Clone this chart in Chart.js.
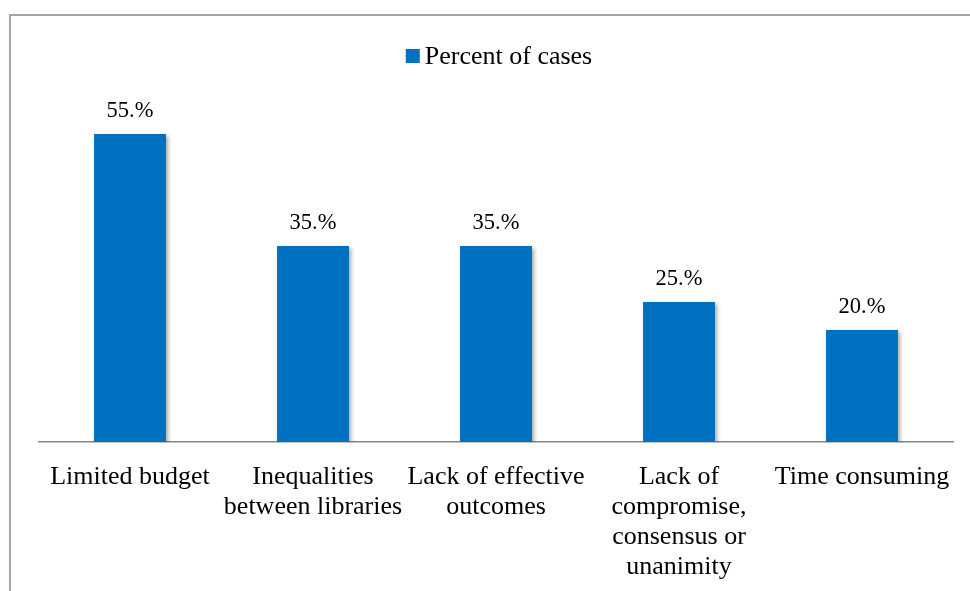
<!DOCTYPE html>
<html>
<head>
<meta charset="utf-8">
<script src="https://cdn.jsdelivr.net/npm/chart.js@4/dist/chart.umd.min.js"></script>
<style>
    html, body { margin: 0; padding: 0; background: #fff; overflow: hidden; }
    #wrap { position: relative; width: 970px; height: 591px; }
    #frame {
        position: absolute; left: 9px; top: 14px; width: 1200px; height: 1200px;
        border-left: 2px solid #a6a6a6; border-top: 2px solid #a6a6a6;
    }
    #barChart { position: absolute; left: 0; top: 0; }
</style>
</head>
<body>
<div id="wrap">
    <div id="frame"></div>
    <canvas id="barChart" width="970" height="591"></canvas>
</div>
<script>
const categories = [
    'Limited budget',
    ['Inequalities', 'between libraries'],
    ['Lack of effective', 'outcomes'],
    ['Lack of', 'compromise,', 'consensus or', 'unanimity'],
    'Time consuming'
];
const seriesName = 'Percent of cases';
const percentOfCases = [55, 35, 35, 25, 20];
const valueLabels = ['55.%', '35.%', '35.%', '25.%', '20.%'];

const serif = '"Liberation Serif", "Times New Roman", serif';
const barColor = '#0070C0';

// soft drop shadow under the bars, like the original Excel chart
const barShadow = {
    id: 'barShadow',
    beforeDatasetsDraw(chart) {
        const c = chart.ctx;
        c.save();
        c.shadowColor = 'rgba(0, 0, 0, 0.35)';
        c.shadowBlur = 4;
        c.shadowOffsetX = 2;
        c.shadowOffsetY = 2;
    },
    afterDatasetsDraw(chart) {
        chart.ctx.restore();
    }
};

// value labels above the bars + the small legend at the top
const labelsPlugin = {
    id: 'valueLabels',
    afterDraw(chart) {
        const c = chart.ctx;
        const meta = chart.getDatasetMeta(0);
        c.save();
        c.font = '22.5px ' + serif;
        c.fillStyle = '#000';
        c.textAlign = 'center';
        c.textBaseline = 'bottom';
        meta.data.forEach((bar, i) => {
            c.fillText(valueLabels[i], bar.x, bar.y - 12);
        });

        // legend: square + series name
        c.font = '26px ' + serif;
        const textW = c.measureText(seriesName).width;
        const total = 14 + 5 + textW;
        const area = chart.chartArea;
        const x0 = (area.left + area.right) / 2 + 3 - total / 2;
        const cy = 56;
        c.fillStyle = barColor;
        c.fillRect(x0, cy - 7, 14, 14);
        c.fillStyle = '#000';
        c.textAlign = 'left';
        c.textBaseline = 'middle';
        c.fillText(seriesName, x0 + 19, cy + 1);
        c.restore();
    }
};

new Chart(document.getElementById('barChart'), {
    type: 'bar',
    data: {
        labels: categories,
        datasets: [{
            label: seriesName,
            data: percentOfCases,
            backgroundColor: barColor,
            borderWidth: 0,
            barPercentage: 0.393,
            categoryPercentage: 1
        }]
    },
    options: {
        responsive: false,
        animation: false,
        layout: {
            padding: { top: 78, left: 38.5, right: 16.5, bottom: 0 }
        },
        plugins: {
            tooltip: { enabled: false },
            legend: { display: false }
        },
        scales: {
            y: {
                display: false,
                min: 0,
                max: 65
            },
            x: {
                grid: { display: false },
                border: { display: true, color: '#868686', width: 1.5 },
                afterFit: function(scale) {
                    scale.height = 149;
                },
                ticks: {
                    color: '#000',
                    maxRotation: 0,
                    autoSkip: false,
                    padding: 12,
                    font: { family: serif, size: 26, lineHeight: 1.16 }
                }
            }
        }
    },
    plugins: [barShadow, labelsPlugin]
});
</script>
</body>
</html>
